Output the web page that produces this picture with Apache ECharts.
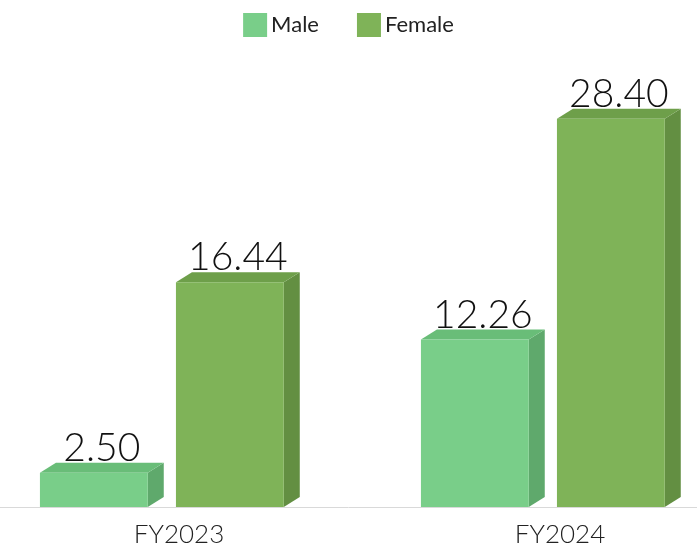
<!DOCTYPE html>
<html>
<head>
<meta charset="utf-8">
<script src="https://cdn.jsdelivr.net/npm/echarts@6/dist/echarts.min.js"></script>
<style>
  html, body { margin: 0; padding: 0; background: #fff; }
  #chart { width: 697px; height: 554px; }
</style>
</head>
<body>
<div id="chart"></div>
<script>
// data
const categories = ['FY2023', 'FY2024']
const maleValues = [2.50, 12.26]
const femaleValues = [16.44, 28.40]

const FONT = 'Lato, "Open Sans", sans-serif'

// front / top / side shades for each series
const shades = {
  Male: { front: '#79ce89', top: '#69bd78', side: '#5fa96c' },
  Female: { front: '#7fb358', top: '#6e9f4a', side: '#638f42' }
}

// bar offsets as fractions of the category band (left edge of front face)
const barLeft = { Male: -0.365, Female: -0.008 }
const barWidth = 0.283
const depthX = 16
const depthY = 10

function make3dBar(name) {
  return function(params, api) {
    const idx = api.value(0)
    const val = api.value(1)
    const top = api.coord([idx, val])
    const base = api.coord([idx, 0])
    const band = api.size([1, 0])[0]
    const x0 = top[0] + band * barLeft[name]
    const x1 = x0 + band * barWidth
    const y0 = top[1]
    const yb = base[1]
    const c = shades[name]
    return {
      type: 'group',
      children: [
        {
          type: 'polygon',
          shape: { points: [[x1, yb], [x1 + depthX, yb - depthY], [x1 + depthX, y0 - depthY], [x1, y0]] },
          style: { fill: c.side }
        },
        {
          type: 'polygon',
          shape: { points: [[x0, y0], [x0 + depthX, y0 - depthY], [x1 + depthX, y0 - depthY], [x1, y0]] },
          style: { fill: c.top }
        },
        {
          type: 'rect',
          shape: { x: x0, y: y0, width: x1 - x0, height: yb - y0 },
          style: { fill: c.front }
        },
        {
          type: 'text',
          x: (x0 + x1 + depthX) / 2,
          y: y0 - depthY + 5,
          style: {
            text: val.toFixed(2),
            fill: '#111',
            font: '300 39px ' + FONT,
            align: 'center',
            verticalAlign: 'bottom'
          }
        }
      ]
    }
  }
}

const chart = echarts.init(document.getElementById('chart'))
const option = {
  animation: false,
  legend: {
    data: ['Male', 'Female'],
    top: 8,
    left: 'center',
    icon: 'rect',
    itemWidth: 24,
    itemHeight: 24,
    itemGap: 38,
    textStyle: { fontFamily: FONT, fontSize: 22, color: '#222', padding: [0, 0, 0, -1] }
  },
  grid: { left: -11.5, right: -53.5, top: 97, bottom: 47, outerBoundsMode: 'none', containLabel: false },
  xAxis: {
    type: 'category',
    data: categories,
    axisLine: { lineStyle: { color: '#d9d9d9', width: 1 } },
    axisTick: { show: false },
    axisLabel: { fontFamily: FONT, fontWeight: 300, fontSize: 26, color: '#222', margin: 15 }
  },
  yAxis: {
    type: 'value',
    min: 0,
    max: 30,
    show: false,
    splitLine: { show: false }
  },
  series: [
    {
      name: 'Male',
      type: 'custom',
      itemStyle: { color: shades.Male.front },
      renderItem: make3dBar('Male'),
      encode: { x: 0, y: 1 },
      data: maleValues.map((v, i) => [i, v])
    },
    {
      name: 'Female',
      type: 'custom',
      itemStyle: { color: shades.Female.front },
      renderItem: make3dBar('Female'),
      encode: { x: 0, y: 1 },
      data: femaleValues.map((v, i) => [i, v])
    }
  ]
}
chart.setOption(option)
</script>
</body>
</html>
